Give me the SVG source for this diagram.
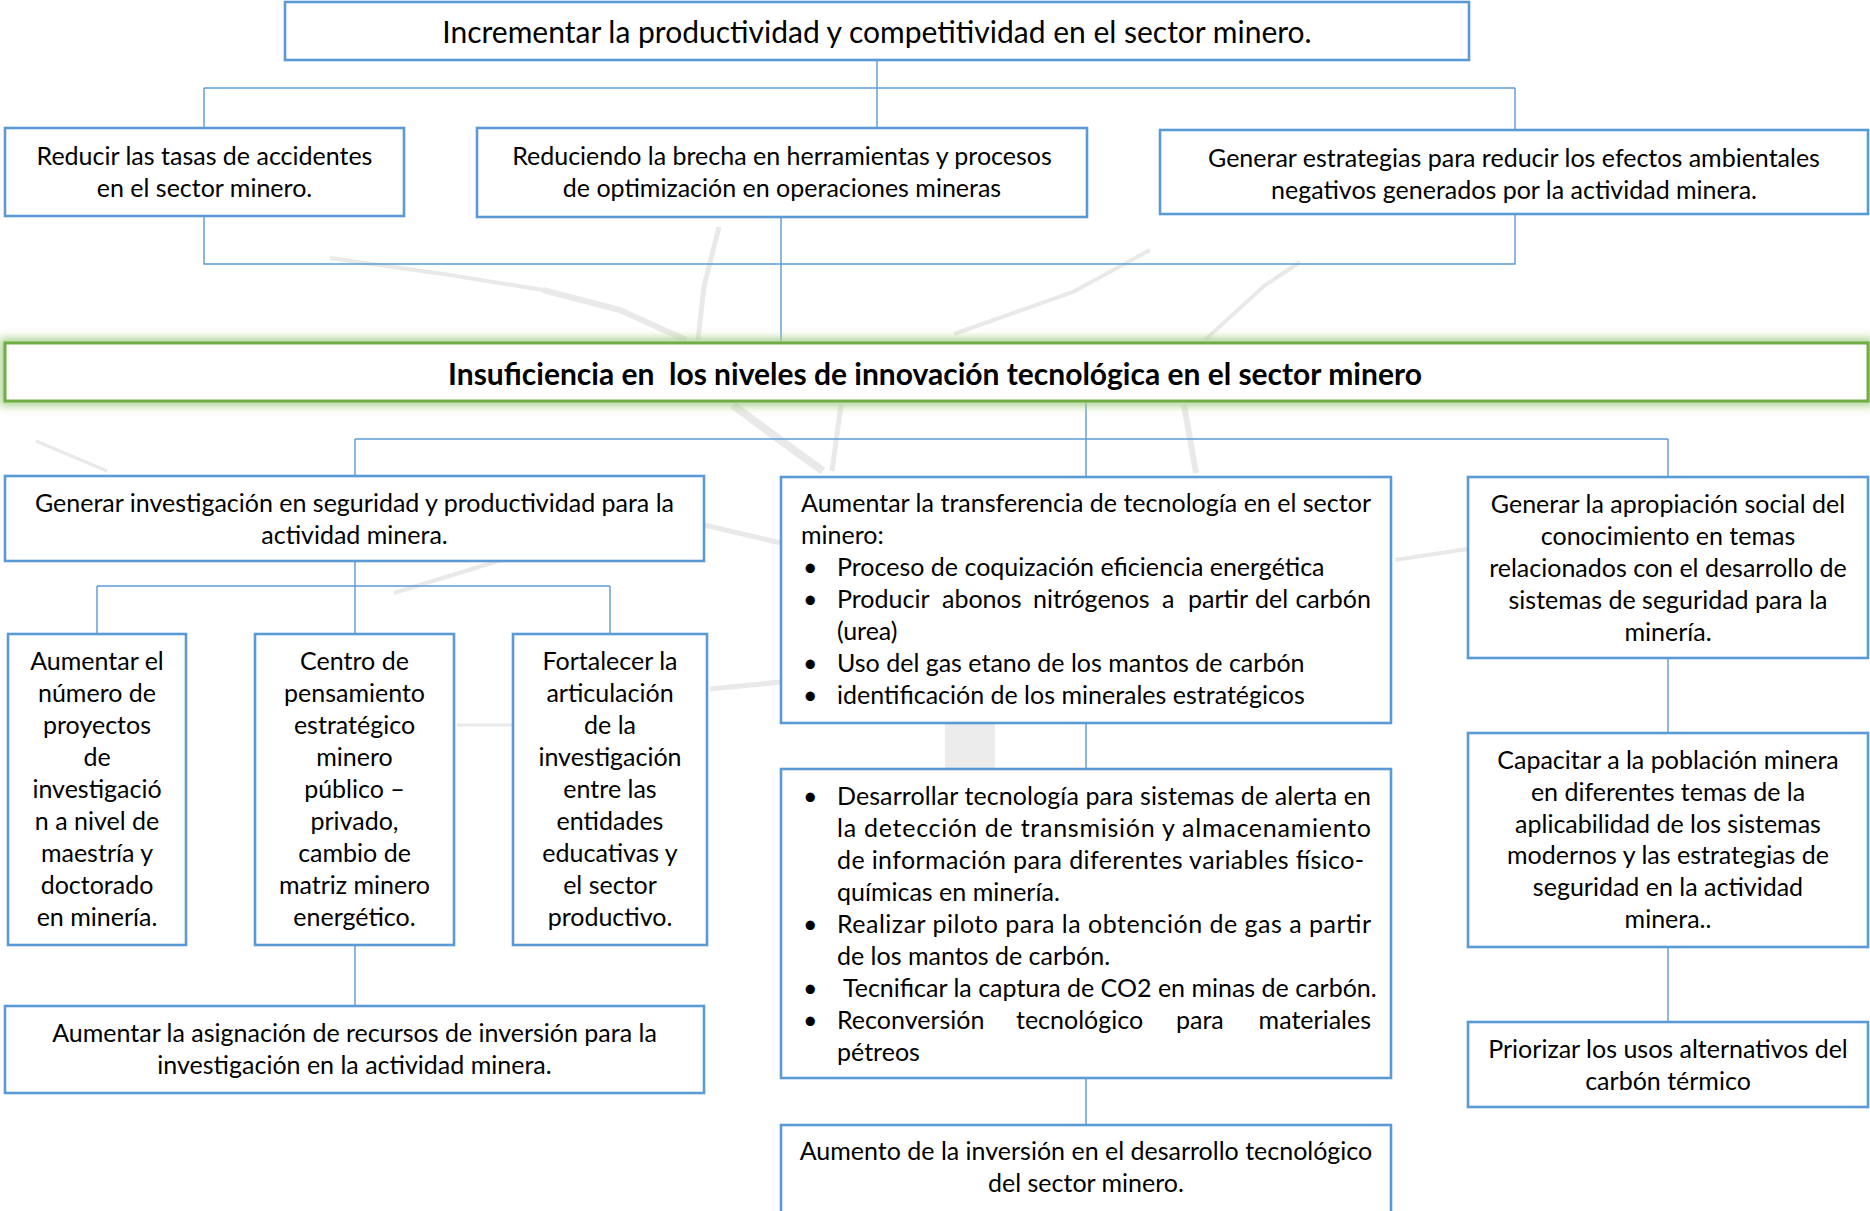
<svg xmlns="http://www.w3.org/2000/svg" width="1870" height="1211" viewBox="0 0 1870 1211">
<defs>
<style>
.box{fill:#ffffff;stroke:#5B9BD5;stroke-width:2.6}
.con{fill:none;stroke:#5B9BD5;stroke-width:1.4}
.bg{fill:none;stroke:#d4d4d4;stroke-linecap:butt;opacity:0.5}
text{font-family:Lato,"Open Sans","Liberation Sans",sans-serif;font-size:25px;fill:#000000;transform:translate(0px,1.5px)}
.c{text-anchor:middle}
.e{text-anchor:end}
.title{font-size:30px}
.bold{font-weight:bold;font-size:30px}
</style>
<filter id="glow" x="-5%" y="-50%" width="110%" height="200%">
<feGaussianBlur stdDeviation="4"/>
</filter>
</defs>
<rect width="1870" height="1211" fill="#ffffff"/>
<g id="background">
<path class="bg" stroke-width="4" d="M330,258 L450,275 L543,290" opacity="0.25"/>
<path class="bg" stroke-width="6" d="M543,290 L620,310 L686,340"/>
<path class="bg" stroke-width="5" d="M719,227 L704,286 L698,340"/>
<path class="bg" stroke-width="4" d="M954,334 L1073,292 L1150,250" opacity="0.35"/>
<path class="bg" stroke-width="4" d="M1205,340 L1264,286 L1300,262" opacity="0.35"/>
<path class="bg" stroke-width="8" d="M733,405 L780,440 L823,471" opacity="0.65"/>
<path class="bg" stroke-width="5" d="M841,405 L832,471" opacity="0.65"/>
<path class="bg" stroke-width="6" d="M1184,405 L1196,473" opacity="0.65"/>
<path class="bg" stroke-width="5" d="M704,525 L781,543"/>
<path class="bg" stroke-width="4" d="M1395,560 L1467,549"/>
<path class="bg" stroke-width="5" d="M710,689 L781,682"/>
<path class="bg" stroke-width="3" d="M457,725 L513,725"/>
<path class="bg" stroke-width="4" d="M394,593 L501,560" opacity="0.4"/>
<rect x="945" y="724" width="50" height="44" fill="#e2e2e2" opacity="0.65"/>
<path class="bg" stroke-width="3" d="M36,441 L107,471" opacity="0.25"/>
</g>
<g id="connectors">
<path class="con" d="M877,60 V128"/>
<path class="con" d="M204,88 H1515"/>
<path class="con" d="M204,88 V128"/>
<path class="con" d="M1515,88 V130"/>
<path class="con" d="M204,216 V264 H1515 V214"/>
<path class="con" d="M781,217 V343"/>
<path class="con" d="M1086,402 V477"/>
<path class="con" d="M355,439 H1668"/>
<path class="con" d="M355,439 V476"/>
<path class="con" d="M1668,439 V477"/>
<path class="con" d="M355,561 V634"/>
<path class="con" d="M97,586 H610"/>
<path class="con" d="M97,586 V634"/>
<path class="con" d="M610,586 V634"/>
<path class="con" d="M355,945 V1006"/>
<path class="con" d="M1086,723 V769"/>
<path class="con" d="M1086,1078 V1125"/>
<path class="con" d="M1668,658 V733"/>
<path class="con" d="M1668,947 V1022"/>
</g>
<g id="n-top">
<rect class="box" x="285" y="2" width="1184" height="58"/>
<text class="c title" x="877" y="41">Incrementar la productividad y competitividad en el sector minero.</text>
</g>
<g id="n-reducir">
<rect class="box" x="5" y="128" width="399" height="88"/>
<text class="c" x="204.5" y="163">Reducir las tasas de accidentes</text>
<text class="c" x="204.5" y="195">en el sector minero.</text>
</g>
<g id="n-reduciendo">
<rect class="box" x="477" y="128" width="610" height="89"/>
<text class="c" x="782" y="163">Reduciendo la brecha en herramientas y procesos</text>
<text class="c" x="782" y="195">de optimización en operaciones mineras</text>
</g>
<g id="n-estrategias">
<rect class="box" x="1160" y="130" width="708" height="84"/>
<text class="c" x="1514" y="165">Generar estrategias para reducir los efectos ambientales</text>
<text class="c" x="1514" y="197">negativos generados por la actividad minera.</text>
</g>
<g id="n-problema">
<rect x="5" y="343" width="1863" height="58" fill="none" stroke="#A9D18E" stroke-width="10" filter="url(#glow)"/>
<rect x="5" y="343" width="1863" height="58" fill="#ffffff" stroke="#70AD47" stroke-width="3"/>
<text class="c bold" x="935" y="383" xml:space="preserve">Insuficiencia en  los niveles de innovación tecnológica en el sector minero</text>
</g>
<g id="n-investigacion">
<rect class="box" x="5" y="476" width="699" height="85"/>
<text class="c" x="354.5" y="510">Generar investigación en seguridad y productividad para la</text>
<text class="c" x="354.5" y="542">actividad minera.</text>
</g>
<g id="n-transferencia">
<rect class="box" x="781" y="477" width="610" height="246"/>
<text x="801" y="510" textLength="570" lengthAdjust="spacing">Aumentar la transferencia de tecnología en el sector</text>
<text x="801" y="542">minero:</text>
<text x="803" y="574">•</text><text x="837" y="574">Proceso de coquización eficiencia energética</text>
<text x="803" y="606">•</text>
<text y="606"><tspan x="837">Producir</tspan><tspan x="942">abonos</tspan><tspan x="1033">nitrógenos</tspan><tspan x="1162">a</tspan><tspan x="1188">partir</tspan><tspan x="1255">del</tspan></text>
<text class="e" x="1371" y="606">carbón</text>
<text x="837" y="638">(urea)</text>
<text x="803" y="670">•</text><text x="837" y="670">Uso del gas etano de los mantos de carbón</text>
<text x="803" y="702">•</text><text x="837" y="702">identificación de los minerales estratégicos</text>
</g>
<g id="n-apropiacion">
<rect class="box" x="1468" y="477" width="400" height="181"/>
<text class="c" x="1668" y="511">Generar la apropiación social del</text>
<text class="c" x="1668" y="543">conocimiento en temas</text>
<text class="c" x="1668" y="575">relacionados con el desarrollo de</text>
<text class="c" x="1668" y="607">sistemas de seguridad para la</text>
<text class="c" x="1668" y="639">minería.</text>
</g>
<g id="n-aumentar-numero">
<rect class="box" x="8" y="634" width="178" height="311"/>
<text class="c" x="97" y="668">Aumentar el</text>
<text class="c" x="97" y="700">número de</text>
<text class="c" x="97" y="732">proyectos</text>
<text class="c" x="97" y="764">de</text>
<text class="c" x="97" y="796">investigació</text>
<text class="c" x="97" y="828">n a nivel de</text>
<text class="c" x="97" y="860">maestría y</text>
<text class="c" x="97" y="892">doctorado</text>
<text class="c" x="97" y="924">en minería.</text>
</g>
<g id="n-centro">
<rect class="box" x="255" y="634" width="199" height="311"/>
<text class="c" x="354.5" y="668">Centro de</text>
<text class="c" x="354.5" y="700">pensamiento</text>
<text class="c" x="354.5" y="732">estratégico</text>
<text class="c" x="354.5" y="764">minero</text>
<text class="c" x="354.5" y="796">público –</text>
<text class="c" x="354.5" y="828">privado,</text>
<text class="c" x="354.5" y="860">cambio de</text>
<text class="c" x="354.5" y="892">matriz minero</text>
<text class="c" x="354.5" y="924">energético.</text>
</g>
<g id="n-fortalecer">
<rect class="box" x="513" y="634" width="194" height="311"/>
<text class="c" x="610" y="668">Fortalecer la</text>
<text class="c" x="610" y="700">articulación</text>
<text class="c" x="610" y="732">de la</text>
<text class="c" x="610" y="764">investigación</text>
<text class="c" x="610" y="796">entre las</text>
<text class="c" x="610" y="828">entidades</text>
<text class="c" x="610" y="860">educativas y</text>
<text class="c" x="610" y="892">el sector</text>
<text class="c" x="610" y="924">productivo.</text>
</g>
<g id="n-desarrollar">
<rect class="box" x="781" y="769" width="610" height="309"/>
<text x="803" y="803">•</text>
<text x="837" y="803" textLength="534" lengthAdjust="spacing">Desarrollar tecnología para sistemas de alerta en</text>
<text x="837" y="835" textLength="534" lengthAdjust="spacing">la detección de transmisión y almacenamiento</text>
<text x="837" y="867" textLength="527" lengthAdjust="spacing">de información para diferentes variables físico-</text>
<text x="837" y="899">químicas en minería.</text>
<text x="803" y="931">•</text>
<text x="837" y="931" textLength="534" lengthAdjust="spacing">Realizar piloto para la obtención de gas a partir</text>
<text x="837" y="963">de los mantos de carbón.</text>
<text x="803" y="995">•</text><text x="843" y="995">Tecnificar la captura de CO2 en minas de carbón.</text>
<text x="803" y="1027">•</text>
<text y="1027"><tspan x="837">Reconversión</tspan><tspan x="1016">tecnológico</tspan><tspan x="1176">para</tspan></text>
<text class="e" x="1371" y="1027">materiales</text>
<text x="837" y="1059">pétreos</text>
</g>
<g id="n-asignacion">
<rect class="box" x="5" y="1006" width="699" height="87"/>
<text class="c" x="354.5" y="1040">Aumentar la asignación de recursos de inversión para la</text>
<text class="c" x="354.5" y="1072">investigación en la actividad minera.</text>
</g>
<g id="n-capacitar">
<rect class="box" x="1468" y="733" width="400" height="214"/>
<text class="c" x="1668" y="767">Capacitar a la población minera</text>
<text class="c" x="1668" y="799">en diferentes temas de la</text>
<text class="c" x="1668" y="831">aplicabilidad de los sistemas</text>
<text class="c" x="1668" y="862">modernos y las estrategias de</text>
<text class="c" x="1668" y="894">seguridad en la actividad</text>
<text class="c" x="1668" y="926">minera..</text>
</g>
<g id="n-priorizar">
<rect class="box" x="1468" y="1022" width="400" height="85"/>
<text class="c" x="1668" y="1056">Priorizar los usos alternativos del</text>
<text class="c" x="1668" y="1088">carbón térmico</text>
</g>
<g id="n-aumento-inversion">
<rect class="box" x="781" y="1125" width="610" height="92"/>
<text class="c" x="1086" y="1158">Aumento de la inversión en el desarrollo tecnológico</text>
<text class="c" x="1086" y="1190">del sector minero.</text>
</g>
</svg>
